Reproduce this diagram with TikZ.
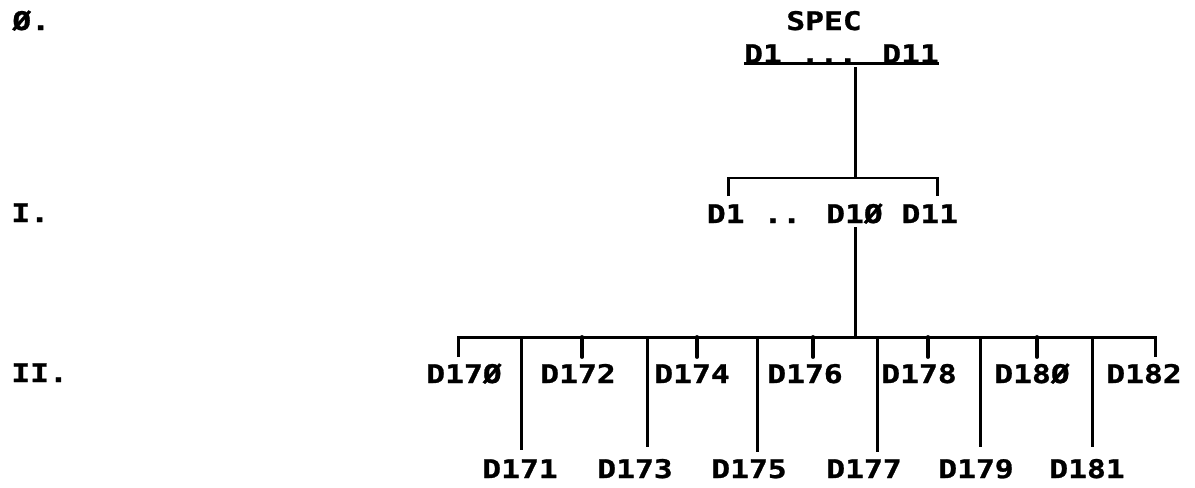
\documentclass[tikz,border=0pt]{standalone}
\usepackage{fontspec}
\newfontfamily\typewr[FakeStretch=1.22,FakeBold=1]{DejaVu Sans Mono}
\begin{document}
\begin{tikzpicture}[x=0.02cm,y=-0.02cm,
  lbl/.style={font=\typewr\bfseries\fontsize{14.6pt}{14.6pt}\selectfont, inner sep=0pt, anchor=base},
  conn/.style={line width=1.7pt},
  tickline/.style={line width=2.2pt, line cap=round}]
\useasboundingbox (0,0) rectangle (1195,487);
% level labels
\node[lbl,anchor=base west] (l0) at (12,30) {Ø.};
\node[lbl,anchor=base west] (l1) at (11,222) {I.};
\node[lbl,anchor=base west] (l2) at (11,382) {II.};
% level 0
\node[lbl] (spec) at (824,30) {SPEC};
\node[lbl] (top) at (841.5,63) {D1 ... D11};
% level I
\node[lbl] (lvl1) at (832.5,223) {D1 .. D1Ø D11};
% level II
\foreach \n/\x/\t in {170/464/D17Ø,172/578/D172,174/692/D174,176/805/D176,178/919/D178,180/1032/D18Ø,182/1144/D182}
  \node[lbl] (d\n) at (\x,383) {\t};
\foreach \n/\x in {171/520,173/635,175/749,177/864,179/976,181/1087}
  \node[lbl] (d\n) at (\x,478) {D\n};
% junctions
\coordinate (j1) at (855,178);
\coordinate (j2) at (855,337);
\coordinate (b1l) at (728,196);
\coordinate (b1r) at (937,196);
\coordinate (b2l) at (458,357);
\coordinate (b2r) at (1155,357);
% connectors
\draw[conn] (top.south west) -- (top.south east);
\draw[conn] (top.south -| j1) ++(0,4) -- (j1);
\draw[conn] (b1l) |- (j1) -| (b1r);
\draw[conn] (lvl1.south -| j2) ++(0,3) -- (j2);
\draw[conn] (b2l) |- (j2) -| (b2r);
\foreach \x in {582,697,813,928,1037}
  \draw[tickline] (\x,337) -- (\x,357);
\foreach \x/\y in {521/450,647/447,757/452,877/452,980/447,1092/447}
  \draw[conn] (\x,337) -- (\x,\y);
\end{tikzpicture}
\end{document}
